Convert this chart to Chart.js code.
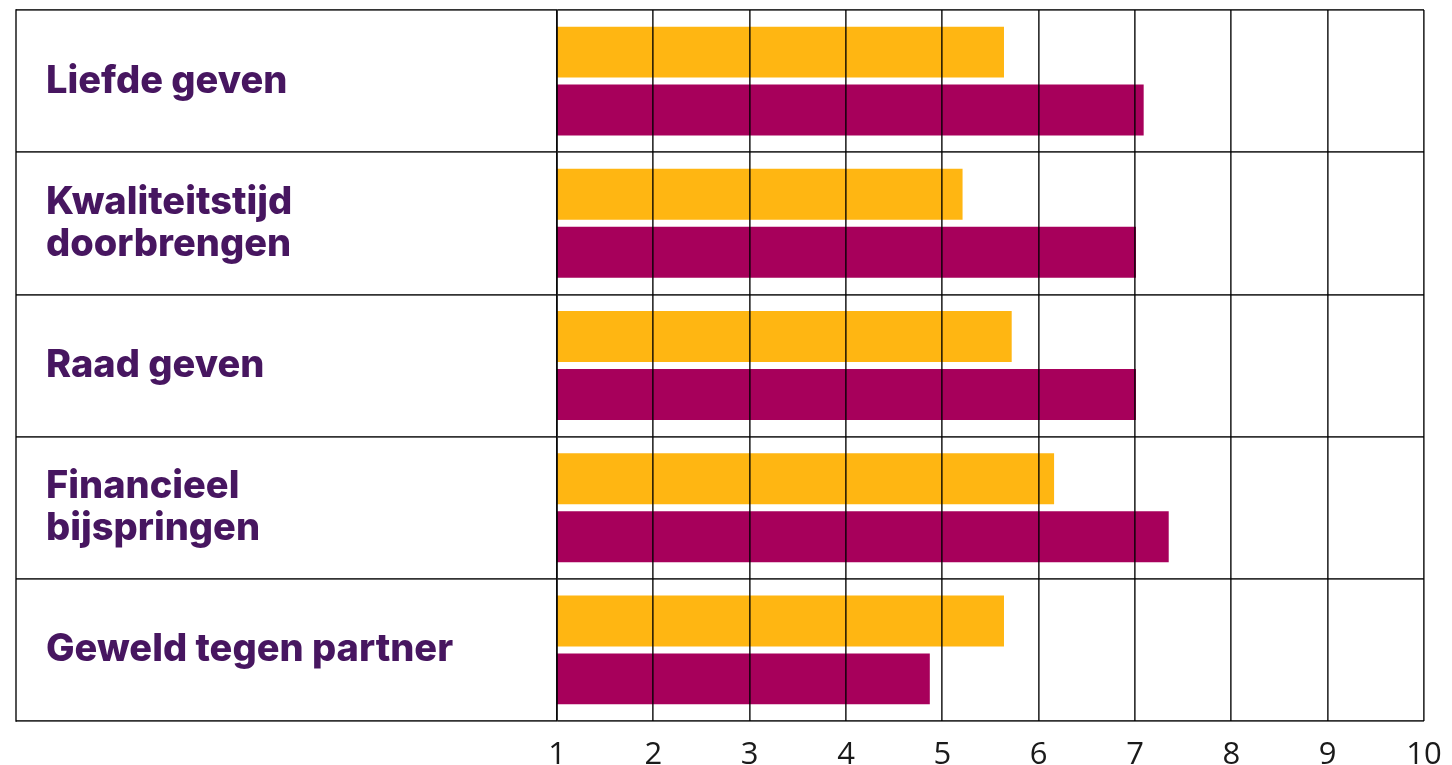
<!DOCTYPE html>
<html>
<head>
<meta charset="utf-8">
<script src="https://cdn.jsdelivr.net/npm/chart.js@4.4.1/dist/chart.umd.min.js"></script>
<style>
  html, body { margin: 0; padding: 0; background: #fff; }
  #wrap { width: 1452px; height: 765px; }
</style>
</head>
<body>
<div id="wrap"><canvas id="myChart"></canvas></div>
<script>
'use strict';

// categories (multi-line labels as arrays)
let categories = [
  ['Liefde geven'],
  ['Kwaliteitstijd', 'doorbrengen'],
  ['Raad geven'],
  ['Financieel', 'bijspringen'],
  ['Geweld tegen partner']
];
let yellowValues = [5.64, 5.21, 5.72, 6.16, 5.64];
let purpleValues = [7.09, 7.01, 7.01, 7.35, 4.87];
let xTicks = [1, 2, 3, 4, 5, 6, 7, 8, 9, 10];

let lineColor = 'rgba(0, 0, 0, 0.8)';

// left border of the label box
const leftBorder = {
  id: 'leftBorder',
  afterDraw(chart) {
    let ctx = chart.ctx;
    let area = chart.chartArea;
    ctx.save();
    ctx.strokeStyle = lineColor;
    ctx.lineWidth = 1.7;
    ctx.beginPath();
    ctx.moveTo(16, area.top - 0.85);
    ctx.lineTo(16, area.bottom + 0.85);
    ctx.stroke();
    ctx.restore();
  }
};

const chartData = {
  labels: categories,
  datasets: [
    {
      label: 'Reeks 1',
      data: yellowValues,
      backgroundColor: '#FFB612',
      categoryPercentage: 0.815,
      barPercentage: 0.88
    },
    {
      label: 'Reeks 2',
      data: purpleValues,
      backgroundColor: '#A7005B',
      categoryPercentage: 0.815,
      barPercentage: 0.88
    }
  ]
};

const config = {
  type: 'bar',
  data: chartData,
  options: {
    indexAxis: 'y',
    responsive: true,
    maintainAspectRatio: false,
    animation: false,
    layout: {
      padding: { top: 10, left: 46, right: 28, bottom: 0 }
    },
    plugins: {
      legend: { display: false },
      tooltip: { enabled: false }
    },
    scales: {
      x: {
        type: 'linear',
        min: 1,
        max: 10,
        afterBuildTicks(scale) {
          scale.ticks = xTicks.map(v => ({ value: v }));
        },
        afterFit(scale) {
          scale.height = 44;
          scale.paddingLeft = 0;
          scale.paddingRight = 0;
        },
        grid: {
          color: lineColor,
          lineWidth: 1.7,
          drawTicks: false,
          z: 1
        },
        border: { display: false },
        ticks: {
          color: '#1a1a1a',
          padding: 16,
          font: { family: 'Open Sans', size: 31 }
        }
      },
      y: {
        afterFit(scale) {
          scale.width = 557 - 46;
          scale.paddingTop = 0;
          scale.paddingBottom = 0;
        },
        grid: {
          color: lineColor,
          lineWidth: 1.7,
          drawTicks: true,
          tickLength: 541,
          z: 1
        },
        border: { display: true, color: lineColor, width: 1.7, z: 1 },
        ticks: {
          crossAlign: 'far',
          color: '#471660',
          padding: 0,
          font: { family: 'Inter', size: 38, weight: '800', lineHeight: 1.1 }
        }
      }
    }
  },
  plugins: [leftBorder]
};

let chartCanvas = document.getElementById('myChart').getContext('2d');
const myChart = new Chart(chartCanvas, config);
</script>
</body>
</html>
